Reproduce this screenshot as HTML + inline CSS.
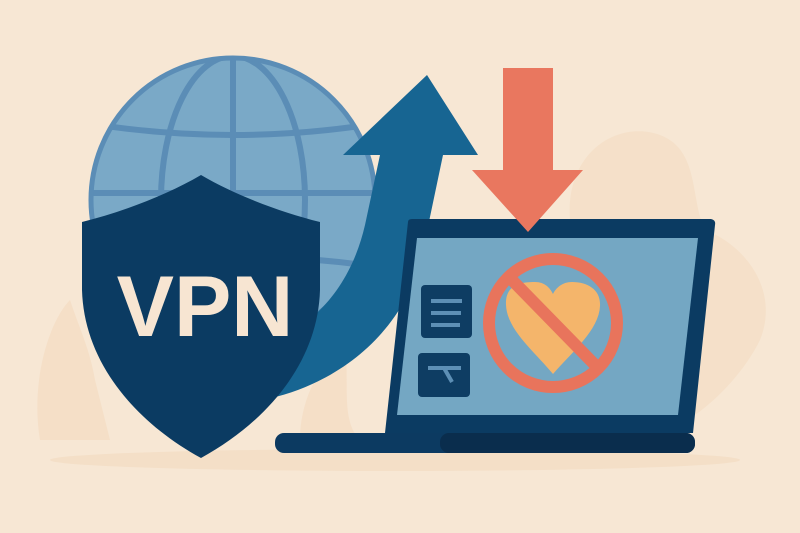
<!DOCTYPE html>
<html><head><meta charset="utf-8"><style>html,body{margin:0;padding:0;background:#f7e6d3;}svg{display:block}</style></head>
<body>
<svg width="800" height="533" viewBox="0 0 800 533" xmlns="http://www.w3.org/2000/svg">
<defs><clipPath id="g"><circle cx="233" cy="200" r="142"/></clipPath></defs>
<rect width="800" height="533" fill="#f7e7d4"/>
<!-- background blobs -->
<path d="M570 220 C565 150 620 120 660 135 C700 150 690 200 705 230 C745 245 780 290 760 340 C740 380 700 420 650 440 L580 440 Z" fill="#f4dfc6" opacity="0.8"/>
<path d="M40 440 C30 380 50 320 70 300 C80 330 90 350 95 380 L110 440 Z" fill="#f3dcc2" opacity="0.7"/>
<path d="M300 440 C300 400 320 360 345 350 C350 380 340 420 360 440 Z" fill="#f3dcc2" opacity="0.7"/>
<ellipse cx="395" cy="460" rx="345" ry="11" fill="#f4dfc7"/>
<!-- globe -->
<circle cx="233" cy="200" r="144" fill="#7aa9c7"/>
<g fill="none" stroke="#5b8db6" stroke-width="6" clip-path="url(#g)">
<line x1="233" y1="56" x2="233" y2="344"/>
<ellipse cx="233" cy="200" rx="72" ry="144"/>
<path d="M80 122 Q233 148 386 122"/>
<line x1="80" y1="193" x2="386" y2="193"/>
<path d="M80 268 Q233 245 386 268"/>
</g>
<circle cx="233" cy="200" r="142" fill="none" stroke="#5b8db6" stroke-width="5"/>
<!-- blue arrow -->
<path d="M262 400 C340 385 405 330 422 255 L443 155 L478 155 L427 75 L343 155 L380 155 L365 225 C350 290 310 330 262 345 Z" fill="#176592"/>
<!-- shield -->
<path d="M201 175 C235 195 280 212 320 222 L320 290 C318 360 270 420 201 458 C132 420 84 360 82 290 L82 222 C122 212 167 195 201 175 Z" fill="#0b3b62"/>
<text x="205" y="336" text-anchor="middle" font-family="Liberation Sans, sans-serif" font-weight="bold" font-size="86" fill="#f7e5d2">VPN</text>
<!-- laptop -->
<path d="M408 222 Q408 219 412 219 L711 219 Q716 220 715 225 L693 433 L385 433 Z" fill="#0b3b62"/>
<path d="M417 238 L698 238 L678 415 L397 415 Z" fill="#74a7c3"/>
<rect x="275" y="433" width="420" height="20" rx="9" fill="#0c3a61"/>
<rect x="440" y="433" width="255" height="20" rx="9" fill="#0a2d4d"/>
<!-- sidebar icons -->
<rect x="421" y="285" width="51" height="53" rx="4" fill="#0e3d63"/>
<g stroke="#5d8fb5" stroke-width="4"><line x1="431" y1="301" x2="462" y2="301"/><line x1="431" y1="313" x2="461" y2="313"/><line x1="431" y1="325" x2="460" y2="325"/></g>
<rect x="418" y="353" width="52" height="44" rx="4" fill="#0e3d63"/>
<g stroke="#5d8fb5" stroke-width="4" fill="none"><line x1="428" y1="368" x2="461" y2="368"/><line x1="444" y1="368" x2="452" y2="382"/></g>
<!-- heart & prohibition -->
<path d="M553 374 C535 352 507 330 506 305 C505 285 520 282 535 282 C545 282 550 288 553 294 C556 288 562 282 572 282 C588 282 601 290 600 306 C599 330 572 352 553 374 Z" fill="#f4b56b"/>
<circle cx="553" cy="323" r="64" fill="none" stroke="#e8745c" stroke-width="12"/>
<line x1="510" y1="278" x2="598" y2="368" stroke="#e8745c" stroke-width="12"/>
<!-- red arrow -->
<path d="M503 68 L553 68 L553 170 L583 170 L528 232 L472 170 L503 170 Z" fill="#e9775f"/>
</svg>
</body></html>
